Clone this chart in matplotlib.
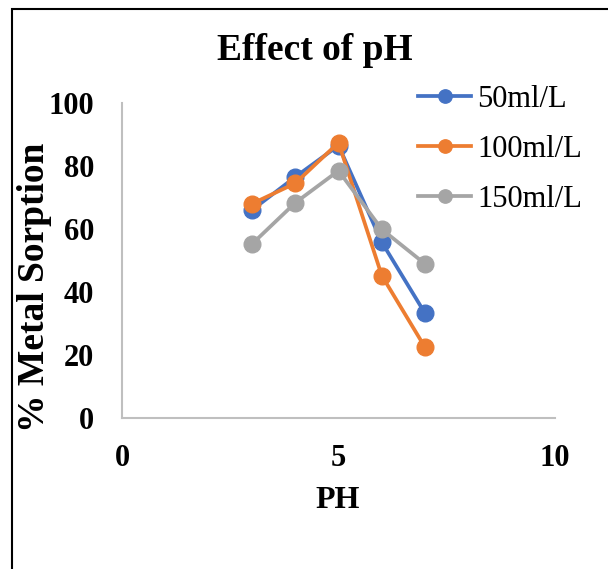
import matplotlib
matplotlib.use("Agg")
import matplotlib.pyplot as plt
from matplotlib.patches import Rectangle

# data
ph = [3, 4, 5, 6, 7]
sorption_50 = [66, 76.5, 86.5, 55.8, 33.2]
sorption_100 = [68, 74.5, 87.4, 45.2, 22.4]
sorption_150 = [55.2, 68.3, 78.5, 59.9, 48.9]
series_labels = ["50ml/L", "100ml/L", "150ml/L"]
colors = ["#4472C4", "#ED7D31", "#A5A5A5"]

plt.rcParams["font.family"] = ["Liberation Serif", "DejaVu Serif"]

fig = plt.figure(figsize=(6.08, 5.69), dpi=100)
ax = fig.add_axes([0.2007, 0.2654, 0.7121, 0.5536])

for ys, lab, c in zip([sorption_50, sorption_100, sorption_150], series_labels, colors):
    ax.plot(ph, ys, color=c, lw=2.7, marker="o", markersize=12, label=lab)

ax.set_xlim(0, 10)
ax.set_ylim(0, 100)
ax.set_xticks([0, 5, 10])
ax.set_yticks([0, 20, 40, 60, 80, 100])
ax.tick_params(length=0, labelsize=22)
ax.tick_params(axis="x", pad=19)
ax.tick_params(axis="y", pad=20)
for lbl in ax.get_xticklabels() + ax.get_yticklabels():
    lbl.set_fontweight("bold")

for side in ["top", "right"]:
    ax.spines[side].set_visible(False)
for side in ["left", "bottom"]:
    ax.spines[side].set_color("#BFBFBF")
    ax.spines[side].set_linewidth(1.5)

fig.text(0.518, 1 - 50 / 569, "Effect of pH", ha="center", va="center",
         fontsize=27, fontweight="bold")
fig.text(338 / 608, 1 - 501 / 569, "PH", ha="center", va="center",
         fontsize=23, fontweight="bold")
fig.text(35 / 608, 1 - 287 / 569, "% Metal Sorption", ha="center", va="center",
         rotation=90, fontsize=27, fontweight="bold")

ax.legend(loc="upper left", bbox_to_anchor=(418 / 608, 1 - 85 / 569),
          bbox_transform=fig.transFigure, frameon=False, fontsize=22,
          borderpad=0, borderaxespad=0, handlelength=1.75, handletextpad=0.2,
          labelspacing=0.68, markerscale=0.8)

# outer chart border (only left and top edges visible in the crop)
fig.patches.append(Rectangle((11.5 / 608, -0.2), 1.5, 1.2 - 8.5 / 569,
                             transform=fig.transFigure, fill=False,
                             edgecolor="black", lw=1.5))

fig.savefig("out.png", dpi=100)
